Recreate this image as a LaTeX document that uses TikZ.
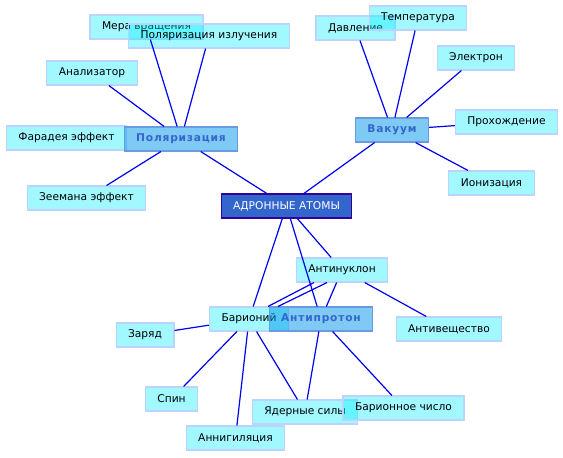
\documentclass[tikz,border=0pt]{standalone}
\usepackage{fontspec}
\setmainfont{DejaVu Sans}
\usepackage{tikz}
\usetikzlibrary{calc}
\definecolor{leaffill}{HTML}{00F0FF}
\definecolor{leafrule}{HTML}{BCD2FF}
\definecolor{hubfill}{HTML}{0096EB}
\definecolor{hubrule}{HTML}{6A9BE0}
\definecolor{hubtext}{HTML}{3366CC}
\definecolor{rootfill}{HTML}{3366CC}
\definecolor{rootrule}{HTML}{330099}
\definecolor{link}{HTML}{0000F0}

\begin{document}
\begin{tikzpicture}[x=0.75pt, y=-0.75pt,
    every node/.style={font=\fontsize{8}{9.6}\selectfont, inner xsep=9pt,
      inner ysep=0pt, minimum height=18pt},
    leaf/.style={fill=leaffill, fill opacity=0.37, text opacity=1,
      draw=leafrule, line width=0.8pt},
    hub/.style={fill=hubfill, fill opacity=0.5, text opacity=1,
      draw=hubrule, line width=0.8pt, text=hubtext,
      font=\fontsize{8}{9.6}\selectfont\bfseries\addfontfeature{LetterSpace=7.5}},
    rootbox/.style={fill=rootfill, draw=rootrule, line width=0.8pt, text=white},
    wire/.style={link, line width=0.9pt}]
  \useasboundingbox[fill=white] (0,0) rectangle (563,457);
  % outer concepts
  \foreach \nm/\x/\y/\txt in {mera/146.5/27/Мера вращения,
      izl/209/36/Поляризация излучения, anal/92/73/Анализатор,
      farad/66.5/138/Фарадея эффект, zeeman/86.5/198/Зеемана эффект,
      davl/355.5/28/Давление, temp/418/18/Температура, elek/476/58/Электрон,
      proh/506.5/122/Прохождение, ioniz/491.5/183/Ионизация,
      antinukl/342/270/Антинуклон, barion/249/319/Барионий, zar/145/335/Заряд,
      antivesh/449/329/Антивещество, spin/171.5/399/Спин,
      yadsil/305/412/Ядерные силы, barchis/403.5/408/Барионное число,
      annig/235.5/438/Аннигиляция}{
    \node[leaf] (\nm) at (\x,\y) {\txt};}
  % hubs and root
  \node[hub] (pol) at (181,139) {Поляризация};
  \node[hub] (vak) at (392,130) {Вакуум};
  \node[hub] (antiprot) at (321,319) {Антипротон};
  \node[rootbox] (root) at (286.5,206) {АДРОННЫЕ АТОМЫ};
  % links
  \foreach \a/\b in {root/pol, root/vak, root/barion, root/antiprot, root/antinukl,
      pol/mera, pol/izl, pol/anal, pol/zeeman,
      vak/davl, vak/temp, vak/elek, vak/proh, vak/ioniz,
      antinukl/antiprot, antinukl/antivesh,
      barion/zar, barion/spin, barion/annig, barion/yadsil,
      antiprot/yadsil, antiprot/barchis}{
    \draw[wire] (\a) -- (\b);}
  \draw[wire] ($(antinukl.south)+(-28,0)$) -- ($(barion.north)+(19,0)$);
  \draw[wire] ($(antinukl.south)+(-15,0)$) -- ($(barion.north)+(29,0)$);
\end{tikzpicture}
\end{document}
